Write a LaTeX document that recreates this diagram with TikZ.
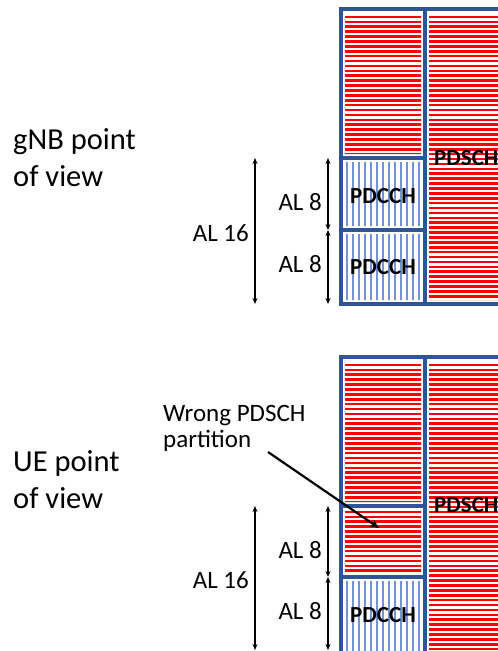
\documentclass[tikz,border=0pt]{standalone}
\usepackage{fontspec}
\setmainfont{Carlito}
\usepackage{tikz}
\usetikzlibrary{arrows.meta, positioning}

\definecolor{cellblue}{RGB}{47,85,151}
\definecolor{pdcchblue}{RGB}{114,147,218}

\tikzset{
  pdsch/.style={line width=2.6pt, draw=red},
  pdcch/.style={line width=1.4pt, draw=pdcchblue},
  cellline/.style={line width=3.5pt, draw=cellblue},
  dimarrow/.style={line width=1.2pt, {Stealth[length=6pt, width=5pt]}-{Stealth[length=6pt, width=5pt]}},
  pointer/.style={line width=2.2pt, -{Stealth[length=9pt, width=8pt]}},
  title/.style={font=\fontsize{30.5}{36.5}\selectfont, align=left, inner sep=0pt},
  allabel/.style={font=\fontsize{25}{26}\selectfont, align=left, inner sep=0pt},
  chan/.style={font=\fontsize{23}{28}\selectfont\bfseries, inner sep=0pt}
}

\begin{document}
\begin{tikzpicture}[x=1pt, y=-1pt]
  \useasboundingbox (0,0) rectangle (498,651);
  \clip (0,0) rectangle (498,651);

  \begin{scope}
    \clip (345,13) rectangle (421,154) (429,13) rectangle (525,300);
    \foreach \y in {12,16.9,...,302}
      \draw[pdsch] (340,\y) -- (530,\y);
  \end{scope}
  \begin{scope}
    \clip (345,162) rectangle (421,226) (345,234) rectangle (421,300);
    \foreach \x in {347,353,...,422}
      \draw[pdcch] (\x,150) -- (\x,310);
  \end{scope}
  \draw[cellline] (341,9) rectangle (525,304);
  \draw[cellline] (425,9) -- (425,304);
  \draw[cellline] (341,158) -- (425,158);
  \draw[cellline] (341,230) -- (425,230);

  \begin{scope}
    \clip (345,361) rectangle (421,502) (345,510) rectangle (421,573) (429,361) rectangle (525,660);
    \foreach \y in {360,364.9,...,662}
      \draw[pdsch] (340,\y) -- (530,\y);
  \end{scope}
  \begin{scope}
    \clip (345,581) rectangle (421,660);
    \foreach \x in {347,353,...,422}
      \draw[pdcch] (\x,570) -- (\x,665);
  \end{scope}
  \draw[cellline] (341,357) rectangle (525,660);
  \draw[cellline] (425,357) -- (425,660);
  \draw[cellline] (341,506) -- (425,506);
  \draw[cellline] (341,577) -- (425,577);

  \node[title, anchor=base west] (gnb) at (13,186) {gNB point\\of view};
  \node[title, anchor=base west] (ue) at (13,508) {UE point\\of view};

  \node[chan] (pdccha) at (383,196) {PDCCH};
  \node[chan] (pdcchb) at (383,267) {PDCCH};
  \node[chan] (pdcchc) at (383,615) {PDCCH};
  \node[chan, anchor=base west] (pdscha) at (434,165.5) {PDSCH};
  \node[chan, anchor=base west] (pdschb) at (434,512.5) {PDSCH};

  \node[allabel, anchor=base east] (al16a) at (249,241) {AL 16};
  \node[allabel, anchor=base east] (al8a) at (322,210) {AL 8};
  \node[allabel, anchor=base east] (al8b) at (322,272) {AL 8};
  \node[allabel, anchor=base east] (al16b) at (249,588) {AL 16};
  \node[allabel, anchor=base east] (al8c) at (322,558) {AL 8};
  \node[allabel, anchor=base east] (al8d) at (322,619) {AL 8};

  \coordinate (topa) at (255,158);
  \coordinate (bota) at (255,304);
  \coordinate (topb) at (328,158);
  \coordinate (midb) at (328,230);
  \coordinate (botb) at (328,304);
  \draw[dimarrow] (topa) -- (bota);
  \draw[dimarrow] (topb) -- (midb);
  \draw[dimarrow] (midb) -- (botb);

  \coordinate (topc) at (255,506);
  \coordinate (botc) at (255,650);
  \coordinate (topd) at (328,506);
  \coordinate (midd) at (328,577);
  \coordinate (botd) at (328,650);
  \draw[dimarrow] (topc) -- (botc);
  \draw[dimarrow] (topd) -- (midd);
  \draw[dimarrow] (midd) -- (botd);

  \node[allabel, anchor=base west] (wrong) at (163,447) {Wrong PDSCH\\partition};
  \coordinate (wrongtail) at (268,452);
  \coordinate (wrongtip) at (379,528);
  \draw[pointer] (wrongtail) -- (wrongtip);
\end{tikzpicture}
\end{document}
